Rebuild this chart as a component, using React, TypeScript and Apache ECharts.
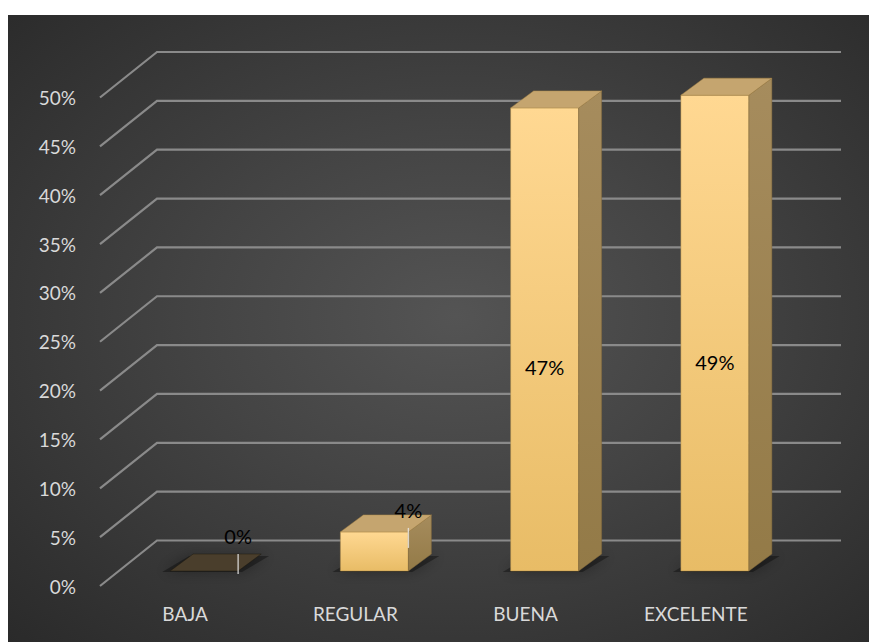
import React, { useEffect, useRef } from "react";
import * as echarts from "echarts";

const categories = ["BAJA", "REGULAR", "BUENA", "EXCELENTE"];
const values = [0, 0.04, 0.474, 0.487];
const yTicks = [0, 0.05, 0.1, 0.15, 0.2, 0.25, 0.3, 0.35, 0.4, 0.45, 0.5];

const pct = (v: number) => Math.round(v * 100) + "%";

export default function App() {
  const ref = useRef<HTMLDivElement>(null);
  useEffect(() => {
    const chart = echarts.init(ref.current!, null, { renderer: "svg" });
    const DX = 57;
    const DY = 45.5;
    const BX = 19;
    const BY = 15;
    const W = 68;
    const DDX = 23;
    const DDY = 17;
    const font = "Lato";

    chart.setOption({
      animation: false,
      grid: { left: 92, right: 88, top: 82.5, bottom: 56 },
      xAxis: {
        type: "category",
        data: categories,
        axisLine: { show: false },
        axisTick: { show: false },
        splitLine: { show: false },
        axisLabel: { color: "#d9d9d9", fontSize: 19, fontFamily: font, margin: 18 },
      },
      yAxis: {
        type: "value",
        min: 0,
        max: 0.5,
        interval: 0.05,
        axisLine: { show: false },
        axisTick: { show: false },
        splitLine: { show: false },
        axisLabel: {
          color: "#d9d9d9",
          fontSize: 19,
          fontFamily: font,
          margin: 24,
          formatter: (v: number) => pct(v),
        },
      },
      series: [
        {
          type: "custom",
          z: 1,
          clip: false,
          silent: true,
          data: yTicks.map((t) => [0, t]),
          renderItem: (params: any, api: any) => {
            const cs = params.coordSys;
            const y = api.coord([0, api.value(1)])[1];
            const x0 = cs.x;
            return {
              type: "polyline",
              shape: {
                points: [
                  [x0, y],
                  [x0 + DX, y - DY],
                  [x0 + cs.width + DX + 3, y - DY],
                ],
              },
              style: { stroke: "#8a8a8a", lineWidth: 2.2, fill: null },
            };
          },
        },
        {
          type: "custom",
          z: 2,
          clip: false,
          silent: true,
          data: values.map((v, i) => [i, v]),
          renderItem: (params: any, api: any) => {
            const i = api.value(0);
            const v = api.value(1);
            const [cx, y0] = api.coord([i, 0]);
            const yt = api.coord([i, v])[1];
            const L = cx + BX - W / 2;
            const R = L + W;
            const B = y0 - BY;
            const T = yt - BY;
            const h = B - T;
            const children: any[] = [];
            children.push({
              type: "polygon",
              shape: {
                points: [
                  [L - 8, B + 1],
                  [R + 4, B + 1],
                  [R + DDX + 8, B - DDY + 2],
                  [L + DDX - 4, B - DDY + 2],
                ],
              },
              style: {
                fill: "rgba(0,0,0,0.35)",
                shadowBlur: 14,
                shadowColor: "rgba(0,0,0,0.9)",
              },
            });
            if (h > 0.5) {
              children.push({
                type: "rect",
                shape: { x: L, y: T, width: W, height: h },
                style: {
                  fill: new echarts.graphic.LinearGradient(0, 0, 0, 1, [
                    { offset: 0, color: "#ffd892" },
                    { offset: 1, color: "#e8bc66" },
                  ]),
                  stroke: "rgba(170,135,70,0.6)",
                  lineWidth: 0.8,
                },
              });
              children.push({
                type: "polygon",
                shape: {
                  points: [
                    [R, T],
                    [R + DDX, T - DDY],
                    [R + DDX, B - DDY],
                    [R, B],
                  ],
                },
                style: {
                  fill: new echarts.graphic.LinearGradient(0, 0, 0, 1, [
                    { offset: 0, color: "#a68c5d" },
                    { offset: 1, color: "#937a47" },
                  ]),
                  stroke: "rgba(130,105,60,0.6)",
                  lineWidth: 0.8,
                },
              });
            }
            children.push({
              type: "polygon",
              shape: {
                points: [
                  [L, T],
                  [R, T],
                  [R + DDX, T - DDY],
                  [L + DDX, T - DDY],
                ],
              },
              style: {
                fill: h > 0.5 ? "#c5a56f" : "#4a3e2c",
                stroke: h > 0.5 ? "rgba(170,135,70,0.6)" : "rgba(30,25,15,0.6)",
                lineWidth: 0.8,
              },
            });
            const small = v < 0.1;
            let lx: number;
            let ly: number;
            if (small) {
              lx = R;
              ly = T - (h > 0.5 ? 22 : 35);
              children.push({
                type: "line",
                shape: { x1: R, y1: ly + 18, x2: R, y2: ly + 38 },
                style: { stroke: "rgba(235,235,235,0.8)", lineWidth: 1.4 },
              });
            } else {
              lx = L + W / 2;
              ly = B - h * 0.44;
            }
            children.push({
              type: "text",
              style: {
                text: pct(v),
                x: lx,
                y: ly,
                align: "center",
                verticalAlign: "middle",
                fill: "#000000",
                fontSize: 20,
                fontFamily: font,
              },
            });
            return { type: "group", children };
          },
        },
      ],
    });
    return () => chart.dispose();
  }, []);
  return (
    <div
      ref={ref}
      style={{
        position: "absolute",
        left: 8,
        top: 15,
        width: 861,
        height: 627,
        background:
          "radial-gradient(ellipse farthest-corner at 52% 48%, #545454 0%, #444444 40%, #2a2a2a 100%)",
      }}
    />
  );
}
